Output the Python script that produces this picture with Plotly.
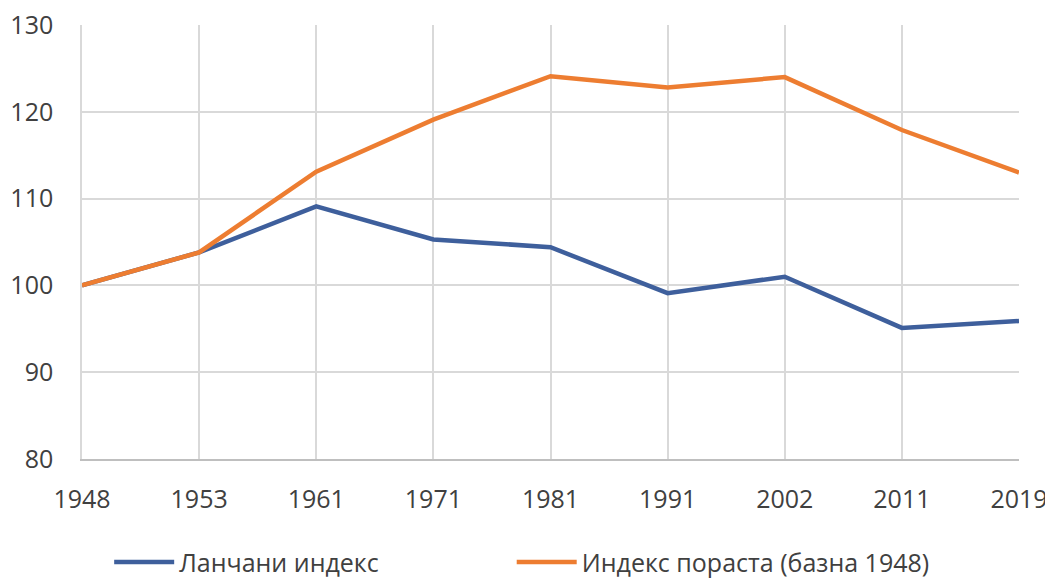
import plotly.graph_objects as go

years = ["1948", "1953", "1961", "1971", "1981", "1991", "2002", "2011", "2019"]
chain_index = [100, 103.8, 109.1, 105.3, 104.4, 99.1, 101.0, 95.1, 95.9]
growth_index = [100, 103.8, 113.1, 119.1, 124.1, 122.8, 124.0, 117.9, 113.0]
y_ticks = [80, 90, 100, 110, 120, 130]

BLUE = "#3E5F9C"
ORANGE = "#ED7D31"
TXT = "#404040"
FONT = "Open Sans"
FS = 25

fig = go.Figure()
fig.add_trace(go.Scatter(x=list(range(len(years))), y=chain_index, mode="lines",
                         name="Ланчани индекс", line=dict(color=BLUE, width=4.5),
                         legend="legend"))
fig.add_trace(go.Scatter(x=list(range(len(years))), y=growth_index, mode="lines",
                         name="Индекс пораста (базна 1948)", line=dict(color=ORANGE, width=4.5),
                         legend="legend2"))

leg_common = dict(orientation="h", xanchor="left", y=-0.238, yanchor="middle",
                  font=dict(family=FONT, size=FS, color=TXT), itemwidth=60,
                  bgcolor="rgba(0,0,0,0)")

# page body has an 8px margin, so the figure is sized/offset to compensate
fig.update_layout(
    width=1045, height=575,
    margin=dict(l=74, r=34, t=17, b=124, autoexpand=False),
    paper_bgcolor="white", plot_bgcolor="white",
    font=dict(family=FONT, size=FS, color=TXT),
    showlegend=True,
    legend=dict(x=0.029, **leg_common),
    legend2=dict(x=0.4586, **leg_common),
)
fig.update_xaxes(
    range=[0, len(years) - 1], tickmode="array",
    tickvals=list(range(len(years))), ticktext=years,
    showgrid=True, gridcolor="#D9D9D9", gridwidth=1.5,
    showline=True, linecolor="#BFBFBF", linewidth=1.5,
    ticks="", ticklabelstandoff=17, zeroline=False, ticklabeloverflow="allow",
    tickfont=dict(family=FONT, size=FS, color=TXT),
)
fig.update_yaxes(
    range=[80, 130], tickmode="array", tickvals=y_ticks,
    showgrid=True, gridcolor="#D9D9D9", gridwidth=1.5,
    showline=True, linecolor="#D9D9D9", linewidth=1.5,
    ticks="", ticklabelstandoff=22, zeroline=False, ticklabeloverflow="allow",
    tickfont=dict(family=FONT, size=FS, color=TXT),
)
fig.write_html("out.html")
